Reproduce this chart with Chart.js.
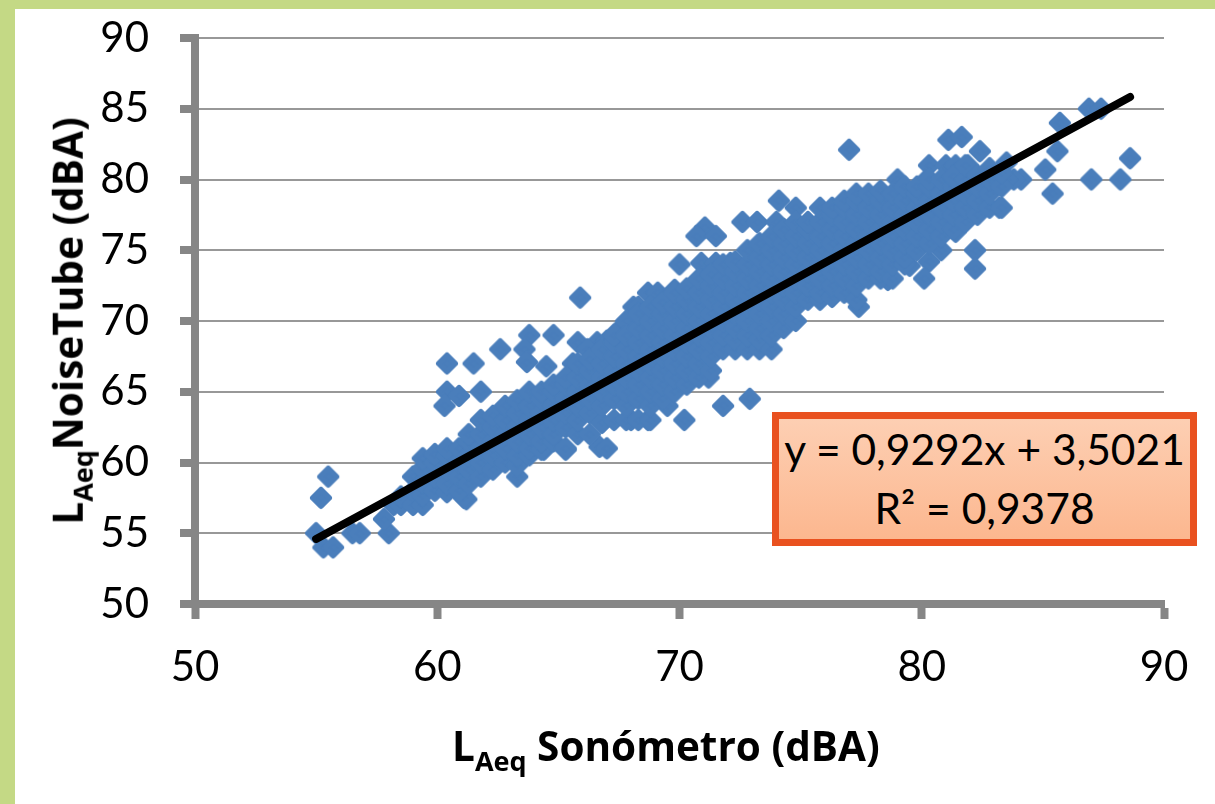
<!DOCTYPE html>
<html lang="es">
<head>
<meta charset="utf-8">
<title>LAeq NoiseTube vs Sonómetro</title>
<script src="https://cdn.jsdelivr.net/npm/chart.js@4/dist/chart.umd.min.js"></script>
<style>
    html, body { margin: 0; padding: 0; width: 1215px; height: 804px; overflow: hidden; background: #c4d985; }
    #panel { position: absolute; left: 15px; top: 9px; width: 1200px; height: 795px; background: #fff; }
    #chart { position: absolute; left: 0; top: 0; }
    .titulo { position: absolute; font-family: "Open Sans", sans-serif; font-weight: 700; font-size: 40.5px; color: #000; white-space: nowrap; line-height: 1; }
    .titulo sub { font-size: 27px; line-height: 0; vertical-align: -10px; }
    #tituloX { left: 452px; top: 726px; }
    #tituloY { left: 68px; top: 321px; transform: translate(-50%, -50%) rotate(-90deg); }
    #ecuacion {
        position: absolute; left: 772px; top: 412px; width: 411px; height: 120px;
        border: 7px solid #e9511f; background: linear-gradient(#fdcfb3, #fcb78f);
        font-family: Lato, sans-serif; font-size: 42.5px; line-height: 59px; color: #000;
        text-align: center; white-space: nowrap;
    }
</style>
</head>
<body>
<div id="panel"></div>
<canvas id="chart" width="1215" height="804"></canvas>
<div class="titulo" id="tituloX">L<sub>Aeq</sub> Sonómetro (dBA)</div>
<div class="titulo" id="tituloY">L<sub>Aeq</sub>NoiseTube (dBA)</div>
<div id="ecuacion">y = 0,9292x + 3,5021<br>R² = 0,9378</div>

<script>
    // Valores (estimados a ojo)
    const ticksX = [50, 60, 70, 80, 90];
    const ticksY = [50, 55, 60, 65, 70, 75, 80, 85, 90];

    // Puntos sueltos
    const sueltosX = [55, 55.2, 55.5, 55.3, 55.7, 56.5, 56.8, 58, 57.8, 58.2, 61.2, 63.3, 61.1, 60.4, 61.5, 63.8, 64.8, 62.6, 63.6, 63.7, 64.5, 65.9, 65.8, 65.6, 60.4, 61.8, 60.9, 60.3, 64.4, 65.3, 66.7, 67, 68, 68.7, 69.5, 70.2, 71.8, 72.9, 71.2, 70.3, 71.05, 70.7, 71.5, 74.1, 74.8, 72.6, 73.2, 74, 70, 70.9, 71.5, 72.1, 77, 77.4, 78.6, 86.9, 87.4, 85.7, 85.6, 88.6, 85.1, 85.4, 87, 88.2, 84.1, 83.8, 83.5, 83.5, 81.1, 81.65, 82.4, 80.3, 81, 81.4, 81.9, 79, 80.2, 83.2, 81.4, 80.8, 82.2, 82.2, 80.3, 80.1, 79.5, 68.7, 69.1, 68.1, 67.4, 66.6, 69.8, 70.3, 71.05, 67.8, 68.3, 67, 66.2];
    const sueltosY = [55, 57.5, 59, 54, 54, 55, 55, 55, 56, 57, 57.4, 59, 57.5, 67, 67, 69, 69, 68, 68, 67.1, 66.8, 71.65, 68.5, 67, 65, 65, 64.7, 64, 60.9, 60.9, 61.1, 61, 63, 63, 64, 63, 64, 64.5, 66, 66, 76.6, 76, 76, 78.5, 78, 77, 77, 77, 74, 74.1, 74.1, 74.1, 82.1, 71, 72.9, 85, 85, 84, 82, 81.5, 80.7, 79, 80, 80, 80, 80, 80, 81.2, 82.8, 83, 82, 81, 81, 81, 81, 80, 80, 78, 76.3, 75, 75, 73.7, 74.2, 73, 73.9, 72, 72, 71, 69.2, 68.5, 72.2, 72, 73, 70, 71, 68.6, 68];

    // Nube central: una columna de x con sus valores de y
    const columnasX = [58.5, 59, 59.4, 59.9, 60.4, 60.9, 61.3, 61.8, 62.3, 62.8, 63.3, 63.8, 64.3, 64.8, 65.3, 65.8, 66.3, 66.8, 67.3, 67.8, 68.3, 68.8, 69.3, 69.8, 70.3, 70.8, 71.3, 71.8, 72.3, 72.8, 73.3, 73.8, 74.3, 74.8, 75.3, 75.8, 76.3, 76.8, 77.3, 77.8, 78.3, 78.8, 79.3, 79.8, 80.3, 80.8, 81.3, 81.8, 82.3, 82.8, 83.3];
    const columnasY = [
        [57, 57.6], [57, 58, 59], [57, 57.7, 58.6, 59.6, 60.3], [58, 59, 60, 60.6],
        [57.9, 58.5, 59.5, 60.5, 61], [58, 59, 60, 61], [58.5, 59.5, 60.5, 61.5, 62], [59, 60, 61, 62, 63],
        [59.5, 60.5, 61.5, 62.5, 63.3], [60, 61, 62, 63, 64], [59.8, 60.5, 61.5, 62.5, 63.5, 64.4], [60.5, 61, 62, 63, 64, 65],
        [60.9, 61.5, 62.5, 63.5, 64.5, 65], [61.5, 62, 63, 64, 65, 65.5], [61, 62.5, 63.5, 64.5, 65.5, 66], [62, 63, 64, 65, 66, 67],
        [62, 63.5, 64.5, 65.5, 66.5, 67.3], [62.8, 64, 65, 66, 67, 68], [63, 64.5, 65.5, 66.5, 67.5, 68.5, 69], [63, 64, 65, 66, 67, 68, 69],
        [63, 64.5, 65.5, 66.5, 67.5, 68.5, 69.5, 70.5], [63, 64, 65, 66, 67, 68, 69, 70, 71], [64.5, 65.5, 66.5, 67.5, 68.5, 69.5, 70.5, 71.3], [65, 66, 67, 68, 69, 70, 71, 72],
        [65.5, 66.5, 67.5, 68.5, 69.5, 70.5, 71.5, 72.3], [66, 67, 68, 69, 70, 71, 72, 73], [66.5, 67.5, 68.5, 69.5, 70.5, 71.5, 72.5, 73.3], [68, 69, 70, 71, 72, 73, 74],
        [68, 68.7, 69.5, 70.5, 71.5, 72.5, 73.5, 74.2], [68, 69, 70, 71, 72, 73, 74, 75], [68, 68.7, 69.5, 70.5, 71.5, 72.5, 73.5, 74.5, 75.5], [68, 69, 70, 71, 72, 73, 74, 75, 76],
        [69.5, 70.5, 71.5, 72.5, 73.5, 74.5, 75.5, 76.5], [70, 71, 72, 73, 74, 75, 76, 77], [71.5, 72.5, 73.5, 74.5, 75.5, 76.5, 77], [71.5, 72, 73, 74, 75, 76, 77, 78],
        [71.7, 72.5, 73.5, 74.5, 75.5, 76.5, 77.5, 78], [72, 73, 74, 75, 76, 77, 78, 78.5], [71.5, 72.5, 73.5, 74.5, 75.5, 76.5, 77.5, 78.5, 79], [73, 74, 75, 76, 77, 78, 79],
        [73, 73.5, 74.5, 75.5, 76.5, 77.5, 78.5, 79.2], [73, 74, 75, 76, 77, 78, 79], [74, 74.5, 75.5, 76.5, 77.5, 78.5, 79.5], [75, 76, 77, 78, 79, 79.5],
        [75.5, 76.5, 77.5, 78.5, 79.5, 80], [76, 77, 78, 79, 80], [76.5, 77.5, 78.5, 79.5, 80.2], [77, 78, 79, 80, 81],
        [77.5, 78.5, 79.5, 80.3], [78, 79, 80, 80.8], [78, 79.5, 80.5]
    ];

    // Linea de tendencia
    const tendenciaX = [55, 88.6];
    const tendenciaY = [54.6, 85.83];

    const puntos = [];
    sueltosX.forEach(function(x, i) {
        puntos.push({ x: x, y: sueltosY[i] });
    });
    columnasX.forEach(function(x, i) {
        columnasY[i].forEach(function(y) {
            puntos.push({ x: x, y: y });
        });
    });

    // Rombo con esquinas redondeadas, como el marcador de Excel
    function crearRombo() {
        const c = document.createElement('canvas');
        c.width = 26;
        c.height = 26;
        const g = c.getContext('2d');
        g.fillStyle = '#4a7ebb';
        g.strokeStyle = '#4a7ebb';
        g.lineWidth = 6;
        g.lineJoin = 'round';
        g.beginPath();
        g.moveTo(13, 5);
        g.lineTo(21, 13);
        g.lineTo(13, 21);
        g.lineTo(5, 13);
        g.closePath();
        g.fill();
        g.stroke();
        return c;
    }

    new Chart(document.getElementById('chart'), {
        type: 'scatter',
        data: {
            datasets: [{
                label: 'Tendencia',
                type: 'line',
                data: tendenciaX.map(function(x, i) { return { x: x, y: tendenciaY[i] }; }),
                borderColor: '#000',
                borderWidth: 8,
                borderCapStyle: 'round',
                pointRadius: 0,
                fill: false,
                order: 1
            }, {
                label: 'LAeq',
                data: puntos,
                pointStyle: crearRombo(),
                pointRadius: 10,
                order: 2
            }]
        },
        options: {
            responsive: false,
            animation: false,
            layout: { autoPadding: false, padding: { top: 38, right: 51, left: 0, bottom: 0 } },
            plugins: { legend: { display: false }, tooltip: { enabled: false } },
            scales: {
                x: {
                    type: 'linear',
                    min: 50,
                    max: 90,
                    afterBuildTicks: function(scale) {
                        scale.ticks = ticksX.map(function(v) { return { value: v }; });
                    },
                    afterFit: function(scale) { scale.height = 200; },
                    border: { color: '#868686', width: 8 },
                    grid: { drawOnChartArea: false, tickColor: '#868686', tickLength: 15, tickWidth: 8 },
                    ticks: { color: '#000', font: { family: 'Lato', size: 42 }, padding: 23, maxRotation: 0 }
                },
                y: {
                    min: 50,
                    max: 90,
                    afterBuildTicks: function(scale) {
                        scale.ticks = ticksY.map(function(v) { return { value: v }; });
                    },
                    // el padding de las etiquetas empujaba el area hacia abajo
                    afterFit: function(scale) {
                        scale.width = 195;
                        scale.paddingTop = 0;
                        scale.paddingBottom = 0;
                    },
                    border: { color: '#868686', width: 8 },
                    grid: { color: '#989898', lineWidth: 2, tickColor: '#868686', tickLength: 15, tickWidth: 8 },
                    ticks: { color: '#000', font: { family: 'Lato', size: 42 }, padding: 31 }
                }
            }
        }
    });
</script>
</body>
</html>
